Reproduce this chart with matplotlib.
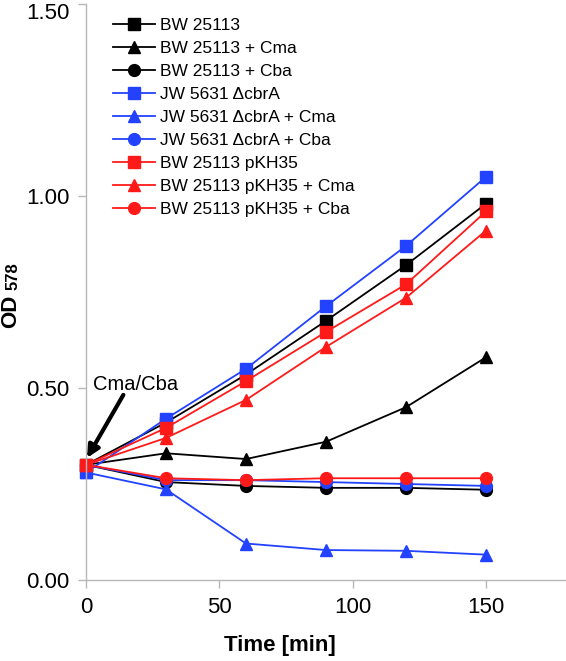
import matplotlib
matplotlib.use("Agg")
import matplotlib.pyplot as plt
import matplotlib.transforms as mtransforms

plt.rcParams['font.family'] = ['Liberation Sans', 'DejaVu Sans']

time = [0, 30, 60, 90, 120, 150]

labels = ["BW 25113", "BW 25113 + Cma", "BW 25113 + Cba",
          "JW 5631 \u0394cbrA", "JW 5631 \u0394cbrA + Cma", "JW 5631 \u0394cbrA + Cba",
          "BW 25113 pKH35", "BW 25113 pKH35 + Cma", "BW 25113 pKH35 + Cba"]

bw = [0.30, 0.41, 0.535, 0.675, 0.82, 0.98]
bw_cma = [0.30, 0.33, 0.315, 0.36, 0.45, 0.58]
bw_cba = [0.30, 0.255, 0.245, 0.24, 0.24, 0.235]
jw = [0.28, 0.42, 0.55, 0.713, 0.87, 1.05]
jw_cma = [0.28, 0.236, 0.095, 0.078, 0.076, 0.066]
jw_cba = [0.30, 0.26, 0.26, 0.255, 0.25, 0.245]
pk = [0.30, 0.396, 0.518, 0.646, 0.77, 0.96]
pk_cma = [0.30, 0.37, 0.469, 0.607, 0.735, 0.91]
pk_cba = [0.30, 0.265, 0.26, 0.265, 0.265, 0.265]

series = [bw, bw_cma, bw_cba, jw, jw_cma, jw_cba, pk, pk_cma, pk_cba]
colors = ['black'] * 3 + ['#2242ff'] * 3 + ['#ff1a1a'] * 3
markers = ['s', '^', 'o'] * 3

yticks = [0.0, 0.5, 1.0, 1.5]
ytick_labels = ["0.00", "0.50", "1.00", "1.50"]
xticks = [0, 50, 100, 150]

fig = plt.figure(figsize=(5.66, 6.61), dpi=100)
ax = fig.add_axes([86/566, 1 - 580/661, 480/566, 576/661])

for y, c, m, lab in zip(series, colors, markers, labels):
    ax.plot(time, y, color=c, marker=m, markersize=8.5, lw=1.3, label=lab,
            clip_on=False)

ax.set_xlim(0, 180)
ax.set_ylim(0, 1.5)
ax.set_xticks(xticks)
ax.set_yticks(yticks)
ax.set_yticklabels(ytick_labels)
ax.tick_params(axis='both', labelsize=16, color='#b8b8b8', length=6, width=1, pad=6)
for s in ['top', 'right']:
    ax.spines[s].set_visible(False)
for s in ['left', 'bottom']:
    ax.spines[s].set_color('#b8b8b8')
    ax.spines[s].set_linewidth(1)

# top tick label sits lower so it stays inside the figure
fig.canvas.draw()
top_lab = ax.get_yticklabels()[-1]
top_lab.set_transform(top_lab.get_transform() +
                      mtransforms.ScaledTranslation(0, -7/100, fig.dpi_scale_trans))

ax.set_xlabel("Time [min]", fontsize=16, fontweight='bold', va='center')
ax.xaxis.set_label_coords((280 - 86) / 480, -(645 - 580) / 576)

fig.text(11/566, 1 - 328/661, "OD", rotation=90, fontsize=16, fontweight='bold',
         ha='center', va='bottom')
fig.text(13/566, 1 - 290/661, "578", rotation=90, fontsize=12, fontweight='bold',
         ha='center', va='bottom')

ax.text(2.6, 0.508, "Cma/Cba", fontsize=14.5, ha='left', va='center')
ax.annotate('', xy=(0.4, 0.318), xytext=(14, 0.482),
            arrowprops=dict(arrowstyle='-|>', lw=3, color='black', mutation_scale=18,
                            shrinkA=0, shrinkB=0))

leg = ax.legend(loc='upper left', bbox_to_anchor=(113/566, 1 - 18/661),
                bbox_transform=fig.transFigure, frameon=False, fontsize=12.5,
                handlelength=2.4, handletextpad=0.3, labelspacing=0.45,
                borderpad=0, borderaxespad=0)

fig.savefig("out.png", dpi=100)
